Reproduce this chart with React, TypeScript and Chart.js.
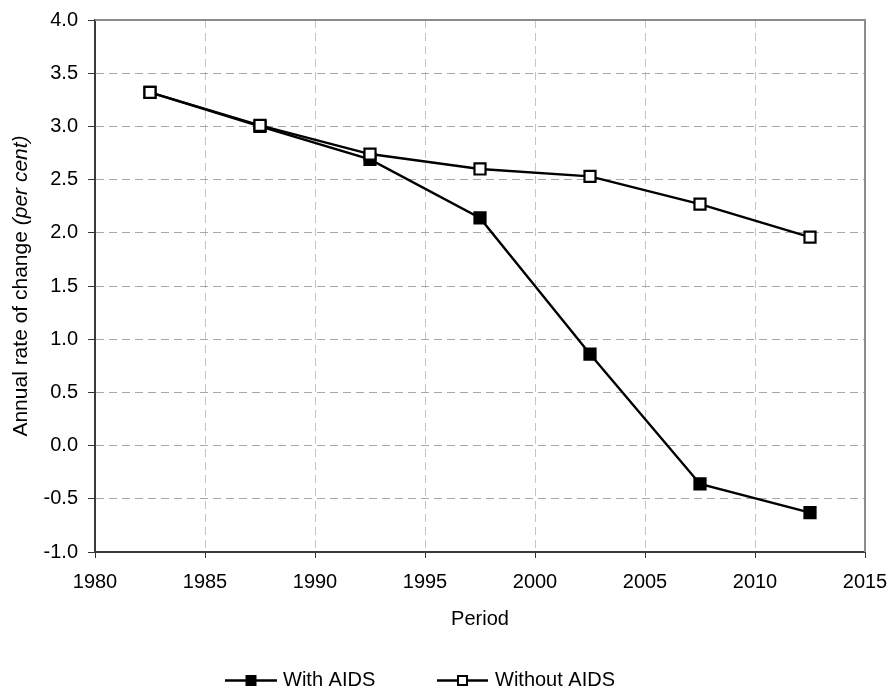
import { useEffect, useRef } from 'react';
import { Chart, registerables } from 'chart.js';

Chart.register(...registerables);

const periods = [1982.5, 1987.5, 1992.5, 1997.5, 2002.5, 2007.5, 2012.5];
const withAids = [3.32, 3.0, 2.69, 2.14, 0.86, -0.36, -0.63];
const withoutAids = [3.32, 3.01, 2.74, 2.6, 2.53, 2.27, 1.96];
const seriesNames = ['With AIDS', 'Without AIDS'];
const xTitle = 'Period';
const yTitleMain = 'Annual rate of change ';
const yTitleItalic = '(per cent)';
const xMin = 1980;
const xMax = 2015;
const xStep = 5;
const yMin = -1;
const yMax = 4;
const yStep = 0.5;

const FONT = '"Liberation Sans", Arial, sans-serif';

const decorPlugin = {
  id: 'decor',
  afterDraw(chart: any) {
    const { ctx, chartArea: a } = chart;
    ctx.save();
    // top & right frame
    ctx.strokeStyle = '#8c8c8c';
    ctx.lineWidth = 2;
    ctx.setLineDash([]);
    ctx.beginPath();
    ctx.moveTo(a.left, a.top);
    ctx.lineTo(a.right, a.top);
    ctx.lineTo(a.right, a.bottom);
    ctx.stroke();

    ctx.fillStyle = '#000';
    // y title
    ctx.save();
    ctx.translate(21, (a.top + a.bottom) / 2);
    ctx.rotate(-Math.PI / 2);
    ctx.textBaseline = 'middle';
    ctx.textAlign = 'left';
    ctx.font = `21px ${FONT}`;
    const w1 = ctx.measureText(yTitleMain).width;
    ctx.font = `italic 21px ${FONT}`;
    const w2 = ctx.measureText(yTitleItalic).width;
    const start = -(w1 + w2) / 2;
    ctx.font = `21px ${FONT}`;
    ctx.fillText(yTitleMain, start, 0);
    ctx.font = `italic 21px ${FONT}`;
    ctx.fillText(yTitleItalic, start + w1, 0);
    ctx.restore();

    // x title
    ctx.font = `20px ${FONT}`;
    ctx.textAlign = 'center';
    ctx.textBaseline = 'middle';
    ctx.fillText(xTitle, (a.left + a.right) / 2, 619);

    // legend
    const ly = 680.5;
    const items = [
      { name: seriesNames[0], fill: '#000', x0: 225, x1: 277, tx: 283 },
      { name: seriesNames[1], fill: '#fff', x0: 437, x1: 488, tx: 495 },
    ];
    items.forEach((it) => {
      ctx.strokeStyle = '#000';
      ctx.lineWidth = 2.4;
      ctx.beginPath();
      ctx.moveTo(it.x0, ly);
      ctx.lineTo(it.x1, ly);
      ctx.stroke();
      const cx = (it.x0 + it.x1) / 2;
      ctx.lineWidth = 2;
      ctx.fillStyle = it.fill;
      ctx.fillRect(cx - 4.5, ly - 4.5, 9, 9);
      ctx.strokeRect(cx - 4.5, ly - 4.5, 9, 9);
      ctx.fillStyle = '#000';
      ctx.textAlign = 'left';
      ctx.textBaseline = 'middle';
      ctx.font = `20px ${FONT}`;
      ctx.fillText(it.name, it.tx, ly);
    });
    ctx.restore();
  },
};

export default function App() {
  const ref = useRef<HTMLCanvasElement>(null);

  useEffect(() => {
    if (!ref.current) return;
    const chart = new Chart(ref.current, {
      type: 'line',
      data: {
        datasets: [
          {
            label: seriesNames[0],
            data: periods.map((p, i) => ({ x: p, y: withAids[i] })),
            borderColor: '#000',
            borderWidth: 2.4,
            pointStyle: 'rect',
            pointRadius: 7.8,
            pointBorderWidth: 2.2,
            pointBorderColor: '#000',
            pointBackgroundColor: '#000',
            fill: false,
            tension: 0,
            order: 1,
          },
          {
            label: seriesNames[1],
            data: periods.map((p, i) => ({ x: p, y: withoutAids[i] })),
            borderColor: '#000',
            borderWidth: 2.4,
            pointStyle: 'rect',
            pointRadius: 7.8,
            pointBorderWidth: 2.2,
            pointBorderColor: '#000',
            pointBackgroundColor: '#fff',
            fill: false,
            tension: 0,
            order: 0,
          },
        ],
      },
      options: {
        animation: false,
        responsive: true,
        maintainAspectRatio: false,
        layout: { padding: { top: 20, right: 28, left: 0, bottom: 0 } },
        plugins: {
          legend: { display: false },
          tooltip: { enabled: false },
        },
        scales: {
          x: {
            type: 'linear',
            min: xMin,
            max: xMax,
            afterFit: (s: any) => {
              s.height = 139;
              s.paddingLeft = 0;
              s.paddingRight = 0;
            },
            ticks: {
              stepSize: xStep,
              color: '#000',
              padding: 12,
              font: { family: FONT, size: 20 },
              callback: (v: any) => String(v),
            },
            grid: {
              color: '#c4c4c4',
              lineWidth: 1,
              tickLength: 6,
              tickColor: '#333',
              tickWidth: 1,
            },
            border: { display: true, color: '#3a3a3a', width: 2, dash: [8, 5] },
          },
          y: {
            type: 'linear',
            min: yMin,
            max: yMax,
            afterFit: (s: any) => {
              s.width = 95;
              s.paddingTop = 0;
              s.paddingBottom = 0;
            },
            ticks: {
              stepSize: yStep,
              color: '#000',
              padding: 10,
              font: { family: FONT, size: 20 },
              callback: (v: any) => Number(v).toFixed(1),
            },
            grid: {
              color: '#a8a8a8',
              lineWidth: 1,
              tickLength: 7,
              tickColor: '#333',
              tickWidth: 1,
            },
            border: { display: true, color: '#3a3a3a', width: 2, dash: [8, 5] },
          },
        },
      },
      plugins: [decorPlugin],
    });
    return () => chart.destroy();
  }, []);

  return (
    <div style={{ position: 'absolute', left: 0, top: 0, width: 893, height: 691 }}>
      <canvas ref={ref} />
    </div>
  );
}
